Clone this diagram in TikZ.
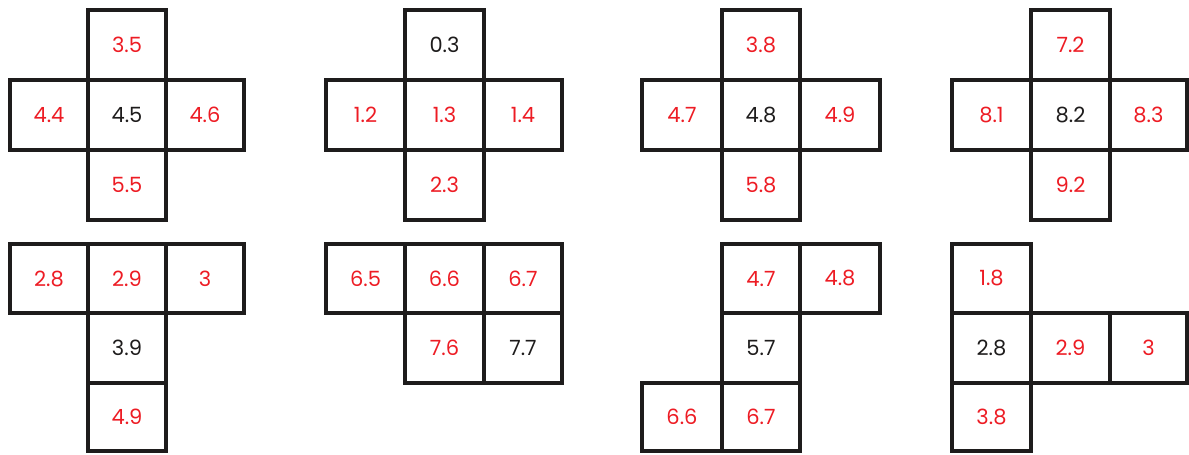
\documentclass[tikz,border=0pt]{standalone}
\usepackage{fontspec}
\setmainfont{Poppins}
\definecolor{numred}{RGB}{237,28,36}
\definecolor{ink}{RGB}{30,28,28}
\tikzset{
  cellbox/.style={draw=ink, line width=4pt, rectangle, inner sep=0pt, outer sep=0pt,
    font=\fontsize{21}{24}\selectfont}
}
\newcommand\cellnode[7]{%
  \pgfmathsetmacro\cw{#4-#2}\pgfmathsetmacro\ch{#5-#3}%
  \node[cellbox, text=#6, minimum width=\cw pt, minimum height=\ch pt] (#1) at ({(#2+#4)/2},{(#3+#5)/2}) {#7};}
\begin{document}
\begin{tikzpicture}[x=1pt,y=-1pt]
\useasboundingbox (0,0) rectangle (1189,455);
% top row y: 10,80,150,220
% Pane 1
\cellnode{aT}{88}{10}{166}{80}{numred}{3.5}
\cellnode{aL}{10}{80}{88}{150}{numred}{4.4}
\cellnode{aC}{88}{80}{166}{150}{ink}{4.5}
\cellnode{aR}{166}{80}{244}{150}{numred}{4.6}
\cellnode{aB}{88}{150}{166}{220}{numred}{5.5}
% Pane 2
\cellnode{bT}{405}{10}{484}{80}{ink}{0.3}
\cellnode{bL}{326}{80}{405}{150}{numred}{1.2}
\cellnode{bC}{405}{80}{484}{150}{numred}{1.3}
\cellnode{bR}{484}{80}{562}{150}{numred}{1.4}
\cellnode{bB}{405}{150}{484}{220}{numred}{2.3}
% Pane 3
\cellnode{cT}{722}{10}{800}{80}{numred}{3.8}
\cellnode{cL}{642}{80}{722}{150}{numred}{4.7}
\cellnode{cC}{722}{80}{800}{150}{ink}{4.8}
\cellnode{cR}{800}{80}{880}{150}{numred}{4.9}
\cellnode{cB}{722}{150}{800}{220}{numred}{5.8}
% Pane 4
\cellnode{dT}{1031}{10}{1110}{80}{numred}{7.2}
\cellnode{dL}{952}{80}{1031}{150}{numred}{8.1}
\cellnode{dC}{1031}{80}{1110}{150}{ink}{8.2}
\cellnode{dR}{1110}{80}{1187}{150}{numred}{8.3}
\cellnode{dB}{1031}{150}{1110}{220}{numred}{9.2}
% bottom row y: 244,313,383,451
% Pane 5
\cellnode{eA}{10}{244}{88}{313}{numred}{2.8}
\cellnode{eB}{88}{244}{166}{313}{numred}{2.9}
\cellnode{eC}{166}{244}{244}{313}{numred}{3}
\cellnode{eD}{88}{313}{166}{383}{ink}{3.9}
\cellnode{eE}{88}{383}{166}{451}{numred}{4.9}
% Pane 6
\cellnode{fA}{326}{244}{405}{313}{numred}{6.5}
\cellnode{fB}{405}{244}{484}{313}{numred}{6.6}
\cellnode{fC}{484}{244}{562}{313}{numred}{6.7}
\cellnode{fD}{405}{313}{484}{383}{numred}{7.6}
\cellnode{fE}{484}{313}{562}{383}{ink}{7.7}
% Pane 7
\cellnode{gA}{722}{244}{800}{313}{numred}{4.7}
\cellnode{gB}{800}{244}{880}{313}{numred}{4.8}
\cellnode{gC}{722}{313}{800}{383}{ink}{5.7}
\cellnode{gD}{642}{383}{722}{451}{numred}{6.6}
\cellnode{gE}{722}{383}{800}{451}{numred}{6.7}
% Pane 8
\cellnode{hA}{952}{244}{1031}{313}{numred}{1.8}
\cellnode{hB}{952}{313}{1031}{383}{ink}{2.8}
\cellnode{hC}{1031}{313}{1110}{383}{numred}{2.9}
\cellnode{hD}{1110}{313}{1187}{383}{numred}{3}
\cellnode{hE}{952}{383}{1031}{451}{numred}{3.8}
\end{tikzpicture}
\end{document}
